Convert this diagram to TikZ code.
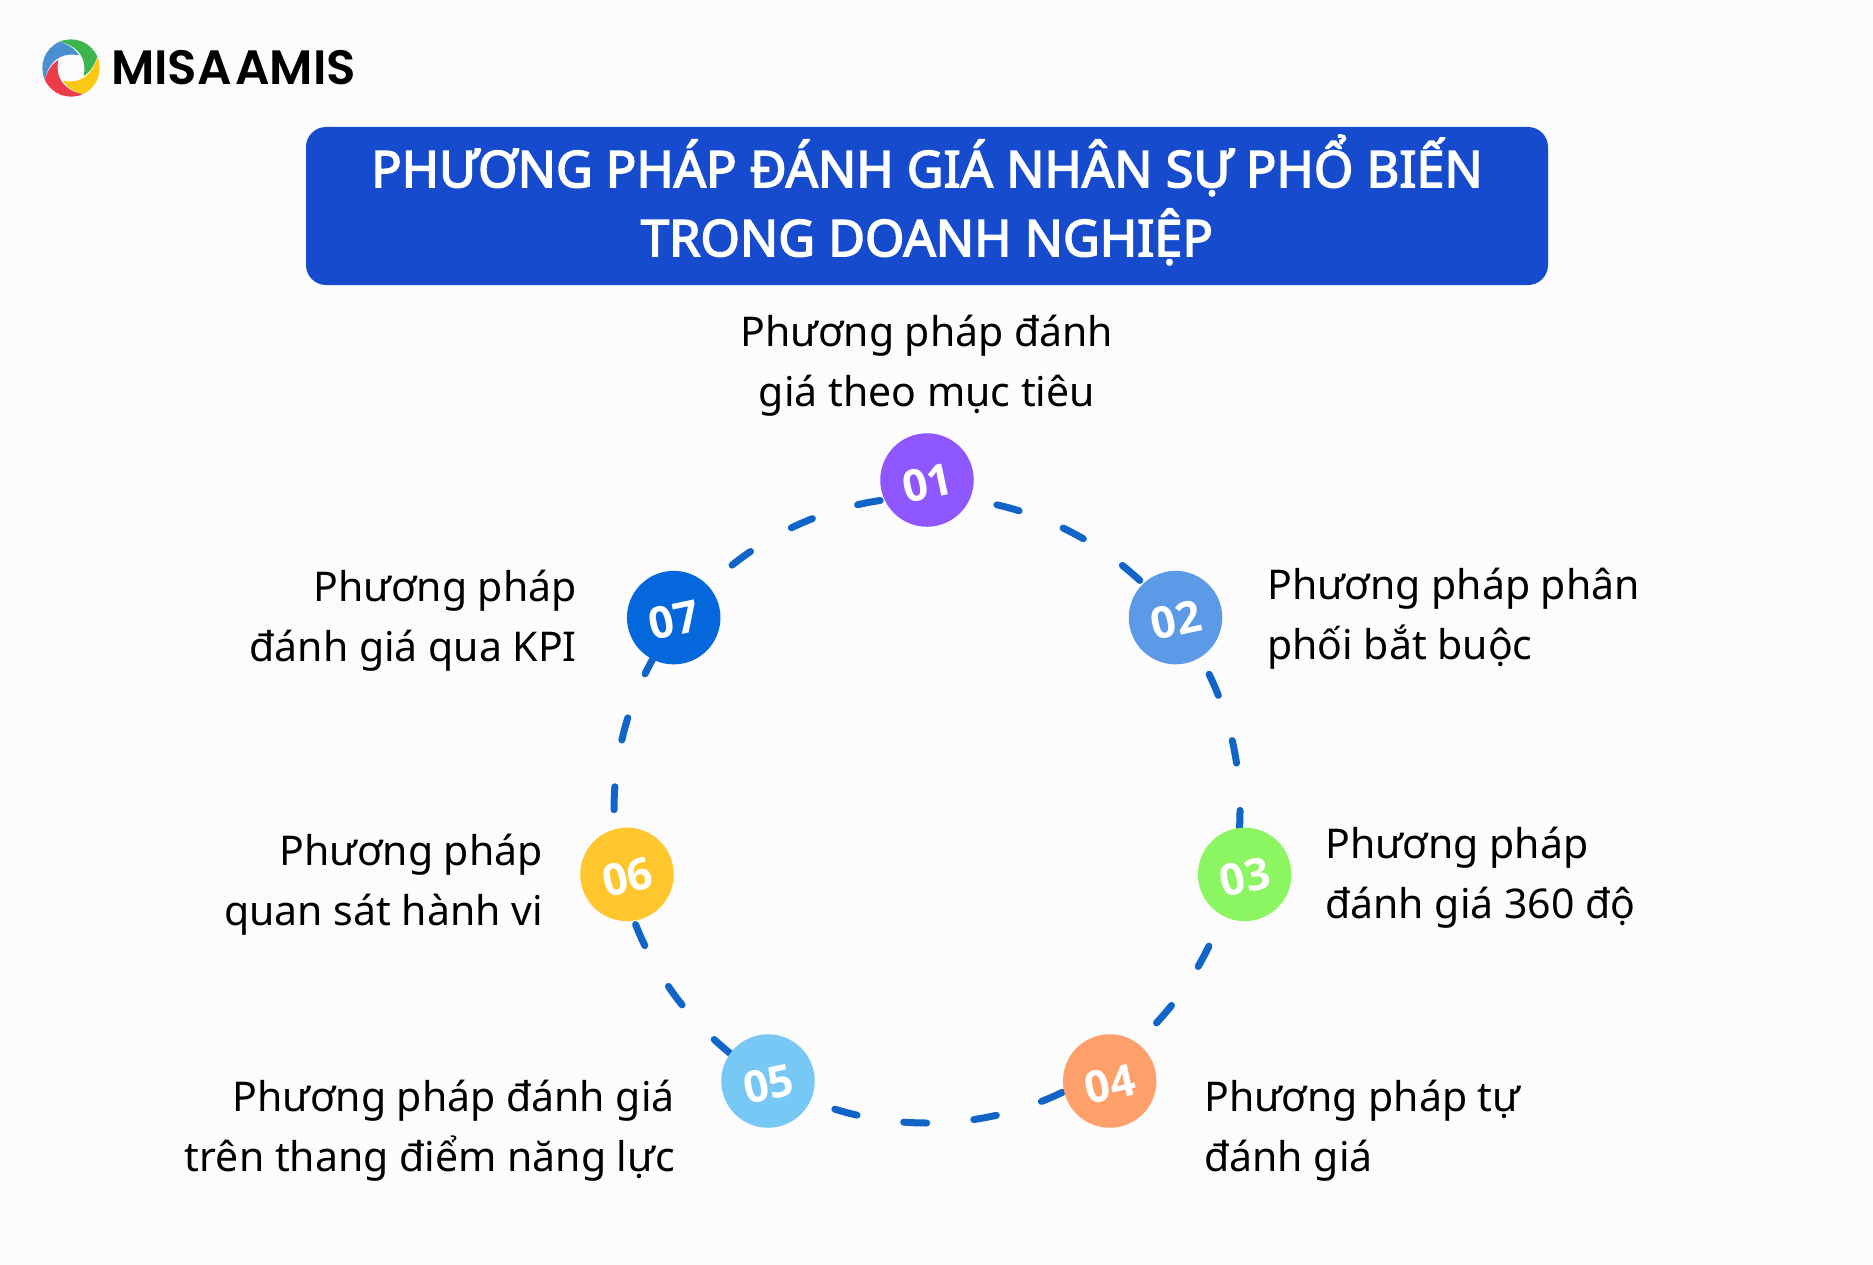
\documentclass[tikz,border=0pt]{standalone}
\usepackage{fontspec}
\setmainfont{Noto Sans}
\newfontfamily\logofont{Poppins}[BoldFont={Poppins SemiBold}]
\newfontfamily\numfont{Open Sans}
\newfontfamily\ttlfont{Noto Sans}[FakeBold=3]
\definecolor{bgc}{HTML}{FCFCFD}
\definecolor{ttl}{HTML}{174BCE}
\definecolor{ringc}{HTML}{1265C8}
\definecolor{ca}{HTML}{8E57FF}
\definecolor{cb}{HTML}{5C99E6}
\definecolor{cc}{HTML}{8CF562}
\definecolor{cd}{HTML}{FFA06A}
\definecolor{ce}{HTML}{78C8F5}
\definecolor{cf}{HTML}{FFC62D}
\definecolor{cg}{HTML}{0567DC}
\definecolor{lgreen}{HTML}{3FB54F}
\definecolor{lyellow}{HTML}{FBC912}
\definecolor{lred}{HTML}{EC3C48}
\definecolor{lblue}{HTML}{4A90D0}
\newcommand{\swirlblade}[2]{%
 \fill[#2,rotate=#1] (114:86) .. controls (0,72) and (40,48) .. (40,0)
   .. controls (40,-8) and (40,-16) .. (38,-24)
   .. controls (56,-14) and (72,10) .. (24:86)
   arc[start angle=24,end angle=114,radius=86] -- cycle;}
\tikzset{
 numdot/.style={circle,minimum size=93.5pt,inner sep=0pt,text=white,font=\numfont\bfseries\fontsize{44}{44}\selectfont,rotate=12,text height=37pt,text depth=0pt},
 lbl/.style={font=\fontsize{41}{60}\selectfont,text=black,inner sep=0pt},
 ringline/.style={draw=ringc,line width=7pt,line cap=round,dash pattern=on 23pt off 47.24pt,dash phase=23.2pt}
}
\begin{document}
\begin{tikzpicture}[x=1pt,y=1pt]
\useasboundingbox (0,0) rectangle (1873,-1265);
\fill[bgc] (0,0) rectangle (1873,-1265);
% logo
\coordinate (lg) at (71,-68);
\begin{scope}[shift={(lg)},scale=1/3]
\swirlblade{0}{lgreen}
\swirlblade{-90}{lyellow}
\swirlblade{-180}{lred}
\swirlblade{90}{lblue}
\end{scope}
\node[inner sep=0pt,anchor=west,font=\logofont\bfseries\fontsize{48.2}{48.2}\selectfont] (logo) at (111,-68) {MISA\kern-2pt\ \kern-6pt AMIS};
% title
\fill[ttl] (306,-127) [rounded corners=20pt] rectangle (1548,-285);
\node[inner sep=0pt,font=\ttlfont\fontsize{50.5}{69}\selectfont,text=white,align=center] (title) at (927,-200) {PHƯƠNG PHÁP ĐÁNH GIÁ NHÂN SỰ PHỔ BIẾN\\TRONG DOANH NGHIỆP};
% ring
\coordinate (ctr) at (927,-810);
\draw[ringline] (ctr) circle (313);
% dots
\node[numdot,fill=ca] (n1) at (927,-480) {01};
\node[numdot,fill=cb] (n2) at (1175.5,-617.6) {02};
\node[numdot,fill=cc] (n3) at (1244.7,-874.4) {03};
\node[numdot,fill=cd] (n4) at (1109.7,-1081) {04};
\node[numdot,fill=ce] (n5) at (768,-1081) {05};
\node[numdot,fill=cf] (n6) at (627,-874.4) {06};
\node[numdot,fill=cg] (n7) at (673.7,-617.6) {07};
% labels
\node[lbl,align=center] (l1) at (927,-366) {Phương pháp đánh\\giá theo mục tiêu};
\node[lbl,align=left,anchor=west] (l2) at (1267,-619) {Phương pháp phân\\phối bắt buộc};
\node[lbl,align=left,anchor=west] (l3) at (1325,-878) {Phương pháp\\đánh giá 360 độ};
\node[lbl,align=left,anchor=west] (l4) at (1204,-1131) {Phương pháp tự\\đánh giá};
\node[lbl,align=right,anchor=east] (l5) at (675,-1131) {Phương pháp đánh giá\\trên thang điểm năng lực};
\node[lbl,align=right,anchor=east] (l6) at (543,-885) {Phương pháp\\quan sát hành vi};
\node[lbl,align=right,anchor=east] (l7) at (577,-621) {Phương pháp\\đánh giá qua KPI};
\end{tikzpicture}
\end{document}
